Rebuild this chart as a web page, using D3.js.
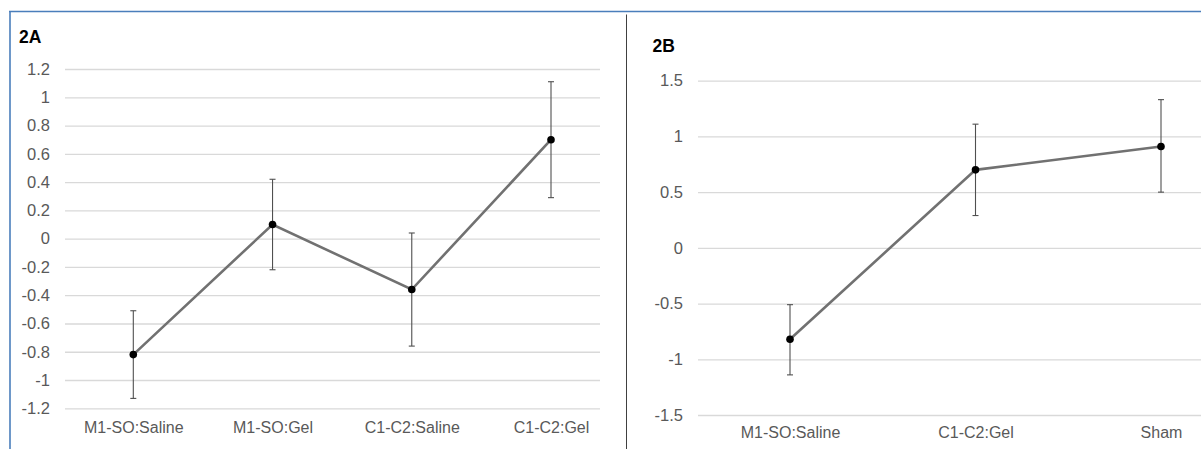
<!DOCTYPE html>
<html>
<head>
<meta charset="utf-8">
<script src="https://cdn.jsdelivr.net/npm/d3@7"></script>
<style>
  body { margin: 0; background: #fff; }
  svg { display: block; font-family: "Liberation Sans", Arial, sans-serif; }
</style>
</head>
<body>
<script>
// Panel 2A
const catsA = ["M1-SO:Saline", "M1-SO:Gel", "C1-C2:Saline", "C1-C2:Gel"];
const meanA = [-0.82, 0.10, -0.36, 0.70];
const upperA = [-0.51, 0.42, 0.04, 1.11];
const lowerA = [-1.13, -0.22, -0.76, 0.29];
const ticksA = [1.2, 1, 0.8, 0.6, 0.4, 0.2, 0, -0.2, -0.4, -0.6, -0.8, -1, -1.2];

// Panel 2B
const catsB = ["M1-SO:Saline", "C1-C2:Gel", "Sham"];
const meanB = [-0.82, 0.70, 0.91];
const upperB = [-0.51, 1.11, 1.33];
const lowerB = [-1.14, 0.29, 0.50];
const ticksB = [1.5, 1, 0.5, 0, -0.5, -1, -1.5];

const w = 1201, h = 449;

const svg = d3.select("body").append("svg")
  .attr("width", w)
  .attr("height", h);

// frame lines
svg.append("line")
  .attr("x1", 9).attr("x2", w).attr("y1", 11.5).attr("y2", 11.5)
  .attr("stroke", "#4a7ebb").attr("stroke-width", 1.6);
svg.append("line")
  .attr("x1", 10).attr("x2", 10).attr("y1", 11).attr("y2", h)
  .attr("stroke", "#4a7ebb").attr("stroke-width", 1.6);
svg.append("line")
  .attr("x1", 626.5).attr("x2", 626.5).attr("y1", 14.5).attr("y2", h)
  .attr("stroke", "#404040").attr("stroke-width", 1);

function panel(cfg) {
  const x = d3.scalePoint().domain(cfg.cats).range(cfg.xRange);
  const y = d3.scaleLinear().domain(cfg.yDomain).range(cfg.yRange);

  const g = svg.append("g");

  // gridlines + y labels
  const yAxis = d3.axisLeft(y)
    .tickValues(cfg.ticks)
    .tickSize(-(cfg.gridEnd - cfg.gridStart))
    .tickPadding(15)
    .tickFormat(d => String(d));

  const yg = g.append("g")
    .attr("transform", `translate(${cfg.gridStart},0)`)
    .call(yAxis);
  yg.select(".domain").remove();
  yg.selectAll(".tick line").attr("stroke", "#d9d9d9").attr("stroke-width", 1.3);
  yg.selectAll(".tick text")
    .attr("fill", "#595959")
    .style("font-size", "16.5px")
    .style("font-family", "Liberation Sans, Arial, sans-serif");

  // x labels
  const xAxis = d3.axisBottom(x).tickSize(0).tickPadding(cfg.xPad);
  const xg = g.append("g")
    .attr("transform", `translate(0,${cfg.yRange[0]})`)
    .call(xAxis);
  xg.select(".domain").remove();
  xg.selectAll(".tick text")
    .attr("fill", "#595959")
    .style("font-size", "16px")
    .style("font-family", "Liberation Sans, Arial, sans-serif");

  const data = cfg.cats.map((c, i) => ({
    cat: c, mean: cfg.mean[i], hi: cfg.upper[i], lo: cfg.lower[i]
  }));

  // connecting line
  const line = d3.line().x(d => x(d.cat)).y(d => y(d.mean));
  g.append("path")
    .datum(data)
    .attr("d", line)
    .attr("fill", "none")
    .attr("stroke", "#717171")
    .attr("stroke-width", 2.6);

  // error bars
  const eb = g.selectAll(".err").data(data).enter().append("g").attr("class", "err");
  eb.append("line")
    .attr("x1", d => x(d.cat)).attr("x2", d => x(d.cat))
    .attr("y1", d => y(d.hi)).attr("y2", d => y(d.lo))
    .attr("stroke", "#505050").attr("stroke-width", 1.1);
  eb.append("line")
    .attr("x1", d => x(d.cat) - 3).attr("x2", d => x(d.cat) + 3)
    .attr("y1", d => y(d.hi)).attr("y2", d => y(d.hi))
    .attr("stroke", "#505050").attr("stroke-width", 1.1);
  eb.append("line")
    .attr("x1", d => x(d.cat) - 3).attr("x2", d => x(d.cat) + 3)
    .attr("y1", d => y(d.lo)).attr("y2", d => y(d.lo))
    .attr("stroke", "#505050").attr("stroke-width", 1.1);

  // markers
  g.selectAll("circle")
    .data(data)
    .enter()
    .append("circle")
    .attr("cx", d => x(d.cat))
    .attr("cy", d => y(d.mean))
    .attr("r", 3.8)
    .attr("fill", "#000");

  // panel title
  svg.append("text")
    .text(cfg.title)
    .attr("x", cfg.titleX)
    .attr("y", cfg.titleY)
    .style("font-size", "17.5px")
    .style("font-weight", "bold")
    .attr("fill", "#000");
}

panel({
  title: "2A", titleX: 19, titleY: 42.5,
  cats: catsA, mean: meanA, upper: upperA, lower: lowerA, ticks: ticksA,
  yDomain: [-1.2, 1.2], yRange: [408.3, 69],
  xRange: [133.3, 551],
  gridStart: 65, gridEnd: 600,
  xPad: 13
});

panel({
  title: "2B", titleX: 652.5, titleY: 51.5,
  cats: catsB, mean: meanB, upper: upperB, lower: lowerB, ticks: ticksB,
  yDomain: [-1.5, 1.5], yRange: [415, 80.7],
  xRange: [790, 1161],
  gridStart: 698, gridEnd: 1201,
  xPad: 11.7
});
</script>
</body>
</html>
